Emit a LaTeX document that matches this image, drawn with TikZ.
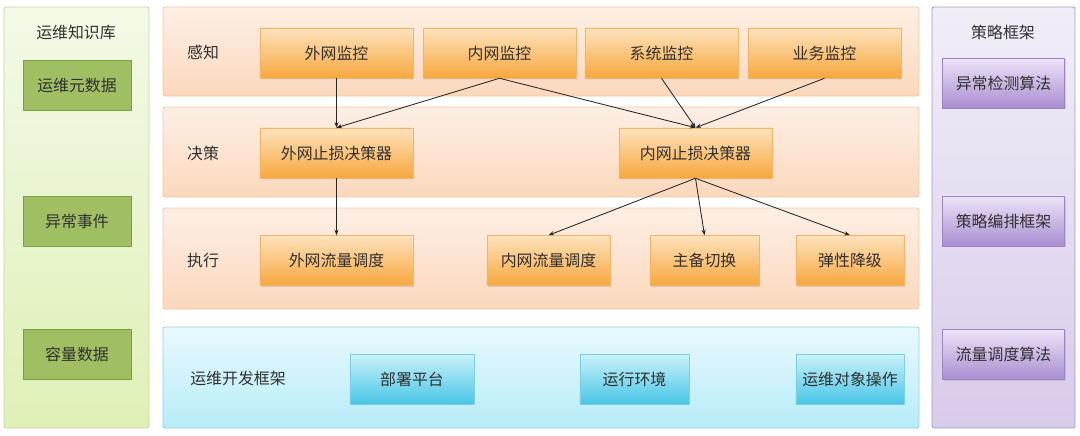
\documentclass[tikz,border=0pt]{standalone}
\usepackage{fontspec}
\newfontfamily\cjk{Noto Sans CJK SC}
\usetikzlibrary{arrows.meta,shadows}
\definecolor{orTop}{HTML}{FDE2BC}
\definecolor{orBot}{HTML}{F8A73E}
\definecolor{orLine}{HTML}{F2B36A}
\definecolor{opTop}{HTML}{FDEFE5}
\definecolor{opBot}{HTML}{FBD8BC}
\definecolor{opLine}{HTML}{F5C6A3}
\definecolor{blTop}{HTML}{CBF2FA}
\definecolor{blBot}{HTML}{47C5E6}
\definecolor{blLine}{HTML}{7FCFE3}
\definecolor{bpTop}{HTML}{E9F9FD}
\definecolor{bpBot}{HTML}{B6ECF8}
\definecolor{bpLine}{HTML}{96D2E2}
\definecolor{gnBox}{HTML}{A0BE62}
\definecolor{gnLine}{HTML}{7F9C45}
\definecolor{gpTop}{HTML}{F3F9E7}
\definecolor{gpBot}{HTML}{DFF0B6}
\definecolor{gpLine}{HTML}{C5D8A0}
\definecolor{puTop}{HTML}{ECE4F7}
\definecolor{puBot}{HTML}{A98DD1}
\definecolor{puLine}{HTML}{9C86C2}
\definecolor{ppTop}{HTML}{F1EEF8}
\definecolor{ppBot}{HTML}{D7CBEA}
\definecolor{ppLine}{HTML}{A898C6}
\definecolor{txt}{HTML}{303030}
\begin{document}
\begin{tikzpicture}[
        x=0.025cm, y=-0.025cm,
        line join=round,
        every node/.style={font=\cjk\fontsize{11.3}{13}\selectfont, text=txt, inner sep=0pt},
        box/.style={draw=#1Line, line width=0.4pt, top color=#1Top, bottom color=#1Bot,
            minimum height=1.25cm,
            drop shadow={shadow xshift=0.8pt, shadow yshift=-0.8pt, opacity=0.25}},
        gbox/.style={draw=gnLine, line width=0.6pt, fill=gnBox,
            minimum width=2.7cm, minimum height=1.25cm},
        panel/.style={draw=#1Line, line width=0.6pt, top color=#1Top, bottom color=#1Bot,
            rounded corners=1.5pt},
        link/.style={-{Stealth[length=4pt,width=3pt]}, line width=0.6pt, black!85}
    ]
        \useasboundingbox (0,0) rectangle (1080,435);
        % Side panels
        \path[panel=gp] (4,7) rectangle (149,428);
        \path[panel=pp] (932,7) rectangle (1075,428);
        % Layer panels
        \path[panel=op] (163,7) rectangle (919,96);
        \path[panel=op] (163,107) rectangle (919,197);
        \path[panel=op] (163,208) rectangle (919,309);
        \path[panel=bp] (163,327) rectangle (919,428);
        % Knowledge base
        \node (kb) at (76,32) {运维知识库};
        \node[gbox] (meta) at (77,85) {运维元数据};
        \node[gbox] (event) at (77,221) {异常事件};
        \node[gbox] (cap) at (77,354) {容量数据};
        % Strategy framework
        \node (sf) at (1003,32) {策略框架};
        \node[box=pu, minimum width=3.05cm] (detect) at (1003.5,83) {异常检测算法};
        \node[box=pu, minimum width=3.05cm] (orch) at (1003.5,221) {策略编排框架};
        \node[box=pu, minimum width=3.05cm] (sched) at (1003.5,354.5) {流量调度算法};
        % Layer labels
        \node (sense) at (203,52) {感知};
        \node (decide) at (203,153) {决策};
        \node (exec) at (203,260) {执行};
        \node (devfw) at (238,378) {运维开发框架};
        % Monitors
        \node[box=or, minimum width=3.825cm] (extmon) at (336.5,53) {外网监控};
        \node[box=or, minimum width=3.825cm] (intmon) at (499.5,53) {内网监控};
        \node[box=or, minimum width=3.825cm] (sysmon) at (661.5,53) {系统监控};
        \node[box=or, minimum width=3.825cm] (bizmon) at (824.5,53) {业务监控};
        % Deciders
        \node[box=or, minimum width=3.825cm] (extdec) at (336.5,153) {外网止损决策器};
        \node[box=or, minimum width=3.825cm] (intdec) at (695.5,153) {内网止损决策器};
        % Actions
        \node[box=or, minimum width=3.825cm] (extflow) at (336.5,260.5) {外网流量调度};
        \node[box=or, minimum width=3.075cm] (intflow) at (548.5,260.5) {内网流量调度};
        \node[box=or, minimum width=2.725cm] (switch) at (704.5,260.5) {主备切换};
        \node[box=or, minimum width=2.7cm] (degrade) at (850,260.5) {弹性降级};
        % Dev framework
        \node[box=bl, minimum width=3.1cm] (deploy) at (412,379) {部署平台};
        \node[box=bl, minimum width=2.725cm] (runenv) at (634.5,379) {运行环境};
        \node[box=bl, minimum width=2.7cm] (objop) at (850,379) {运维对象操作};
        % Links
        \draw[link] (extmon.south) -- (extdec.north);
        \draw[link] (intmon.south) -- (extdec.north);
        \draw[link] (intmon.south) -- (intdec.north);
        \draw[link] (sysmon.south) -- (intdec.north);
        \draw[link] (bizmon.south) -- (intdec.north);
        \draw[link] (extdec.south) -- (extflow.north);
        \draw[link] (intdec.south) -- (intflow.north);
        \draw[link] (intdec.south) -- (switch.north);
        \draw[link] (intdec.south) -- (degrade.north);
    \end{tikzpicture}
\end{document}
